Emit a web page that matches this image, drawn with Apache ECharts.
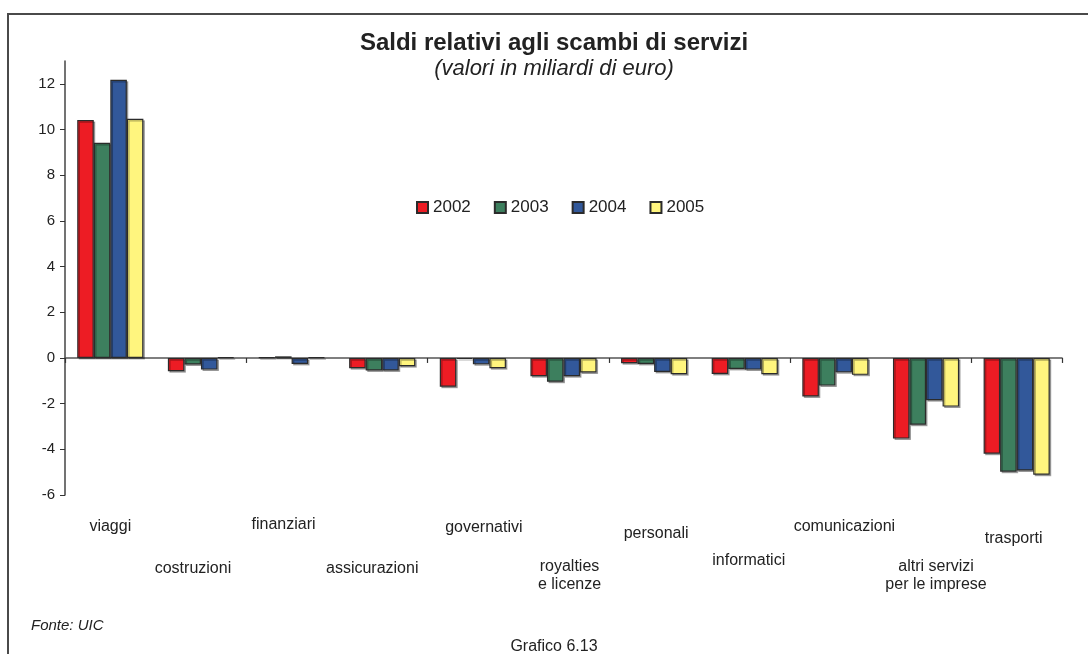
<!DOCTYPE html>
<html>
<head>
<meta charset="utf-8">
<title>Saldi relativi agli scambi di servizi</title>
<script src="https://cdn.jsdelivr.net/npm/echarts@6.0.0/dist/echarts.min.js"></script>
<style>
html, body { margin: 0; padding: 0; background: #fff; }
#main { width: 1088px; height: 654px; }
</style>
</head>
<body>
<div id="main"></div>
<script>
// categorie di servizi (asse x)
var categories = ['viaggi', 'costruzioni', 'finanziari', 'assicurazioni', 'governativi',
	'royalties\ne licenze', 'personali', 'informatici', 'comunicazioni',
	'altri servizi\nper le imprese', 'trasporti'];
var years = ['2002', '2003', '2004', '2005'];

// saldi in miliardi di euro
var v2002 = [10.42, -0.58, 0.02, -0.45, -1.26, -0.80, -0.23, -0.70, -1.69, -3.53, -4.19];
var v2003 = [9.42, -0.29, 0.07, -0.55, -0.05, -1.04, -0.26, -0.48, -1.21, -2.92, -4.98];
var v2004 = [12.18, -0.51, -0.26, -0.55, -0.28, -0.80, -0.61, -0.51, -0.63, -1.85, -4.93];
var v2005 = [10.47, 0.03, 0.02, -0.36, -0.45, -0.64, -0.71, -0.71, -0.74, -2.13, -5.11];

var yTicks = [-6, -4, -2, 0, 2, 4, 6, 8, 10, 12];

// etichette sfalsate come nell'originale (spostamento verticale / orizzontale in px)
var labelDrop = [7, 49, 5, 49, 8, 47, 14, 41, 7, 47, 19];
var labelShift = [0, -8, -8, -10, 11, 6, 2, 4, 9, 10, -3];

var FONT = 'Liberation Sans, Arial, Helvetica, sans-serif';
var colors = ['#ED1C24', '#3D7F5E', '#32589A', '#FFF57E'];

// una riga vuota alta "drop" spinge giu' il testo
var rich = {};
labelDrop.forEach(function (d, i) {
	var s = labelShift[i];
	var pl = s > 0 ? 2 * s : 0, pr = s < 0 ? -2 * s : 0;
	rich['s' + i] = {fontSize: 1, lineHeight: d};
	rich['t' + i] = {padding: [0, pr, 0, pl], fontSize: 16, lineHeight: 18, color: '#222', fontFamily: FONT};
});

function barSeries(name, values, color) {
	return {
		name: name,
		type: 'bar',
		xAxisIndex: 0,
		data: values,
		barGap: '0%',
		barCategoryGap: '27%',
		itemStyle: {
			color: color,
			borderColor: '#2b2b2b',
			borderWidth: 1.2,
			shadowColor: 'rgba(0,0,0,0.3)',
			shadowOffsetX: 1.5,
			shadowOffsetY: 1.5
		}
	};
}

var option = {
	backgroundColor: '#fff',
	animation: false,
	title: [{
		text: 'Saldi relativi agli scambi di servizi',
		left: 549, top: 26, textAlign: 'center',
		textStyle: {fontFamily: FONT, fontSize: 24, fontWeight: 'bold', color: '#222'}
	}, {
		text: '(valori in miliardi di euro)',
		left: 549, top: 53, textAlign: 'center',
		textStyle: {fontFamily: FONT, fontSize: 22, fontWeight: 'normal', fontStyle: 'italic', color: '#222'}
	}, {
		text: 'Fonte: UIC',
		left: 26, top: 613,
		textStyle: {fontFamily: FONT, fontSize: 15, fontWeight: 'normal', fontStyle: 'italic', color: '#222'}
	}, {
		text: 'Grafico 6.13',
		left: 549, top: 634, textAlign: 'center',
		textStyle: {fontFamily: FONT, fontSize: 16, fontWeight: 'normal', color: '#222'}
	}],
	legend: {
		data: years,
		left: 416, top: 199,
		padding: 0,
		icon: 'rect',
		itemWidth: 11, itemHeight: 11, itemGap: 23,
		textStyle: {fontFamily: FONT, fontSize: 17, color: '#222'}
	},
	grid: {left: 65, right: 26, top: 61, bottom: 159, containLabel: false, outerBoundsMode: 'none'},
	xAxis: [{
		type: 'category',
		data: categories,
		position: 'bottom',
		axisLine: {onZero: true, lineStyle: {color: '#555', width: 1.5}},
		axisTick: {show: true, length: 5, lineStyle: {color: '#333', width: 1.2}},
		axisLabel: {show: false},
		splitLine: {show: false}
	}, {
		type: 'category',
		data: categories,
		position: 'bottom',
		axisLine: {show: false, onZero: false},
		axisTick: {show: false},
		splitLine: {show: false},
		axisLabel: {
			interval: 0,
			margin: 16,
			fontFamily: FONT, fontSize: 16, color: '#222',
			formatter: function (value, index) {
				var lines = value.split('\n');
				var txt = '{s' + index + '| }';
				lines.forEach(function (l) {
					txt += '\n{t' + index + '|' + l + '}';
				});
				return txt;
			},
			rich: rich
		}
	}],
	yAxis: {
		type: 'value',
		min: -6, max: 13,
		axisLine: {show: true, lineStyle: {color: '#444', width: 1.5}},
		axisTick: {show: true, length: 5, customValues: yTicks, lineStyle: {color: '#333'}},
		axisLabel: {customValues: yTicks, margin: 10, fontFamily: FONT, fontSize: 15, color: '#222'},
		splitLine: {show: false}
	},
	graphic: [{
		type: 'polyline',
		shape: {points: [[8, 654], [8, 14], [1088, 14]]},
		style: {stroke: '#4a4a4a', lineWidth: 2, fill: null},
		silent: true
	}],
	series: [
		barSeries('2002', v2002, colors[0]),
		barSeries('2003', v2003, colors[1]),
		barSeries('2004', v2004, colors[2]),
		barSeries('2005', v2005, colors[3])
	]
};

var myChart = echarts.init(document.getElementById('main'));
myChart.setOption(option);
</script>
</body>
</html>
